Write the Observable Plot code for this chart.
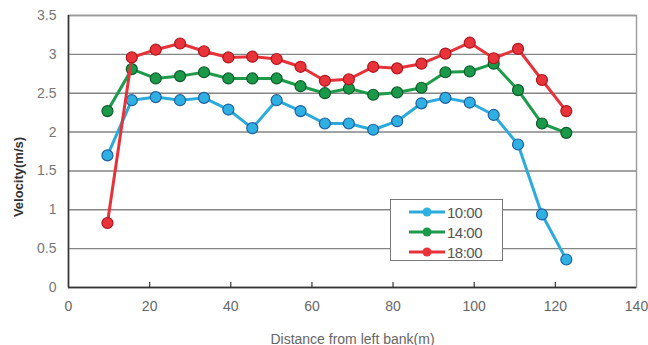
<!DOCTYPE html>
<html>
<head>
<meta charset="utf-8">
<script src="https://cdn.jsdelivr.net/npm/d3@7"></script>
<script src="https://cdn.jsdelivr.net/npm/@observablehq/plot@0.6"></script>
<style>
  body { margin: 0; background: #fff; }
  #wrap { position: relative; width: 648px; height: 345px; font-family: "Liberation Sans", Arial, sans-serif; }
  #legend { position: absolute; left: 390px; top: 199px; width: 113px; height: 62px; border: 1.5px solid #7a7a7a; background: #fff; box-sizing: border-box; }
  #legend .row { position: absolute; left: 0; height: 20px; display: flex; align-items: center; font-size: 15px; color: #555; letter-spacing: -0.5px; }
  #legend svg { display: block; }
  #ylabel { position: absolute; left: 18px; top: 177px; transform: translate(-50%, -50%) rotate(-90deg); white-space: nowrap; font-size: 13px; font-weight: bold; color: #333; }
</style>
</head>
<body>
<div id="wrap"></div>
<script>
const distance = [9.6, 15.6, 21.5, 27.5, 33.4, 39.4, 45.3, 51.3, 57.2, 63.2, 69.1, 75.1, 81.0, 87.0, 92.9, 98.9, 104.8, 110.8, 116.7, 122.7];
const series = ["10:00", "14:00", "18:00"];
const v1000 = [1.70, 2.41, 2.45, 2.41, 2.44, 2.29, 2.05, 2.41, 2.27, 2.11, 2.11, 2.03, 2.14, 2.37, 2.44, 2.38, 2.22, 1.84, 0.94, 0.36];
const v1400 = [2.27, 2.81, 2.69, 2.72, 2.77, 2.69, 2.69, 2.69, 2.59, 2.50, 2.56, 2.48, 2.51, 2.57, 2.77, 2.78, 2.88, 2.54, 2.11, 1.99];
const v1800 = [0.83, 2.96, 3.06, 3.14, 3.04, 2.96, 2.97, 2.94, 2.84, 2.66, 2.68, 2.84, 2.82, 2.88, 3.01, 3.15, 2.95, 3.07, 2.67, 2.27];
const values = [v1000, v1400, v1800];
const xTicks = [0, 20, 40, 60, 80, 100, 120, 140];
const yTicks = [0, 0.5, 1, 1.5, 2, 2.5, 3, 3.5];
const lineColors = ["#2aabdc", "#1d9b4b", "#e6333a"];
const dotFills = ["#2fb0e3", "#1a9a49", "#e8333b"];
const dotStrokes = ["#1f5f9f", "#0c5a2c", "#b0141c"];
const xLabel = "Distance from left bank(m)";
const yLabel = "Velocity(m/s)";

const seriesMarks = [];
series.forEach((s, i) => {
  const rows = distance.map((d, j) => ({distance: d, velocity: values[i][j], series: s}));
  seriesMarks.push(Plot.line(rows, {x: "distance", y: "velocity", stroke: lineColors[i], strokeWidth: 3}));
  seriesMarks.push(Plot.dot(rows, {x: "distance", y: "velocity", r: 5.5, fill: dotFills[i], stroke: dotStrokes[i], strokeWidth: 1.2}));
});

const chart = Plot.plot({
  width: 648,
  height: 345,
  marginLeft: 68,
  marginRight: 12,
  marginTop: 15,
  marginBottom: 58,
  style: {fontFamily: "'Liberation Sans', Arial, sans-serif", fontSize: "14px", color: "#555", background: "#fff", overflow: "visible"},
  x: {domain: [0, 140]},
  y: {domain: [0, 3.5]},
  marks: [
    Plot.gridY(yTicks, {stroke: "#858585", strokeOpacity: 1, strokeWidth: 1.4}),
    Plot.frame({stroke: "#9a9a9a", strokeWidth: 1.4}),
    Plot.axisX(xTicks, {tickSize: 0, tickPadding: 14, fontSize: 14, fill: "#666", label: xLabel, labelAnchor: "center", labelOffset: 56, labelArrow: "none", tickFormat: d => String(d)}),
    Plot.tickX(xTicks.slice(1, -1), {x: d => d, insetTop: 267, stroke: "#444", strokeWidth: 1.3}),
    Plot.axisY(yTicks, {tickSize: 0, tickPadding: 12, fontSize: 14, fill: "#777", label: null, tickFormat: d => String(d)}),
    Plot.ruleY([0], {stroke: "#333", strokeWidth: 1.6}),
    Plot.ruleX([0], {stroke: "#333", strokeWidth: 1.6}),
    ...seriesMarks
  ]
});
const wrap = document.getElementById("wrap");
wrap.appendChild(chart);

const yl = document.createElement("div");
yl.id = "ylabel";
yl.textContent = yLabel;
wrap.appendChild(yl);

const legend = document.createElement("div");
legend.id = "legend";
series.forEach((s, i) => {
  const row = document.createElement("div");
  row.className = "row";
  row.style.top = (2 + i * 20) + "px";
  row.style.left = "16px";
  row.innerHTML = `<svg width="40" height="20"><line x1="2" y1="10" x2="38" y2="10" stroke="${lineColors[i]}" stroke-width="3"/><circle cx="20" cy="10" r="4.5" fill="${dotFills[i]}"/></svg><span>${s}</span>`;
  legend.appendChild(row);
});
wrap.appendChild(legend);
</script>
</body>
</html>
